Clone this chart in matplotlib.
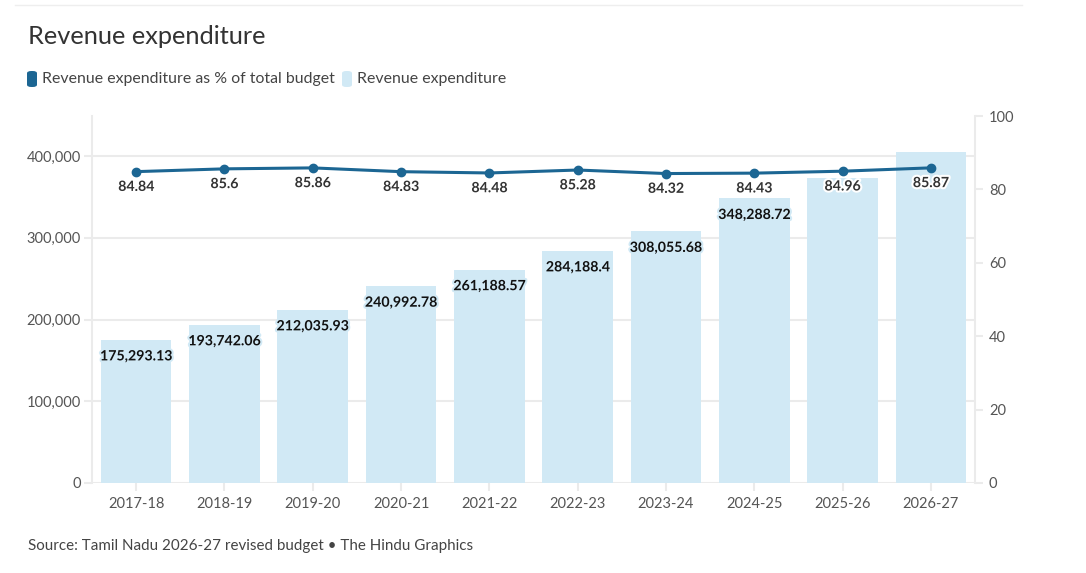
import matplotlib
matplotlib.use("Agg")
import matplotlib.pyplot as plt
import matplotlib.patheffects as pe
from matplotlib.patches import FancyBboxPatch
from matplotlib.lines import Line2D
from matplotlib.ticker import FuncFormatter, FixedLocator

plt.rcParams['font.family'] = ['Lato', 'DejaVu Sans']

# data
years = ["2017-18", "2018-19", "2019-20", "2020-21", "2021-22",
         "2022-23", "2023-24", "2024-25", "2025-26", "2026-27"]
expenditure = [175293.13, 193742.06, 212035.93, 240992.78, 261188.57,
               284188.4, 308055.68, 348288.72, 372700, 405300]
# the last two bar values are not printed on the chart
bar_labels = ["175,293.13", "193,742.06", "212,035.93", "240,992.78", "261,188.57",
              "284,188.4", "308,055.68", "348,288.72", "", ""]
share_pct = [84.84, 85.6, 85.86, 84.83, 84.48, 85.28, 84.32, 84.43, 84.96, 85.87]
left_ticks = [0, 100000, 200000, 300000, 400000]
right_ticks = [0, 20, 40, 60, 80, 100]

BAR = "#d1e9f5"
LINE = "#1c6693"
GRID = "#ebebeb"
TXT = "#555555"

W, H = 1086, 573
fig = plt.figure(figsize=(W / 100, H / 100), dpi=100)
ax = fig.add_axes([92 / W, 1 - 483 / H, (975 - 92) / W, (483 - 116) / H])
ax2 = ax.twinx()

x = list(range(len(years)))
bars = ax.bar(x, expenditure, width=0.8, color=BAR, zorder=2)
ax.set_xlim(-0.5, len(years) - 0.5)
ax.set_ylim(0, 449000)
ax.yaxis.set_major_locator(FixedLocator(left_ticks))
ax.yaxis.set_major_formatter(FuncFormatter(lambda v, p: f"{int(v):,}"))
ax.set_xticks(x)
ax.set_xticklabels(years)
ax.grid(axis="y", color=GRID, linewidth=1.5, zorder=0)
ax.set_axisbelow(True)

for b, lab in zip(bars, bar_labels):
    if not lab:
        continue
    ax.annotate(lab, (b.get_x() + b.get_width() / 2, b.get_height()),
                xytext=(0, -12), textcoords="offset points", ha="center", va="center",
                fontsize=10.2, fontweight="bold", color="#111111", zorder=5,
                path_effects=[pe.withStroke(linewidth=3, foreground=BAR)])

ax2.plot(x, share_pct, color=LINE, linewidth=2.2, marker="o", markersize=6, zorder=4)
ax2.set_ylim(0, 100)
ax2.yaxis.set_major_locator(FixedLocator(right_ticks))
for xi, v in zip(x, share_pct):
    ax2.annotate(f"{v:g}", (xi, v), xytext=(0, -11), textcoords="offset points",
                 ha="center", va="center", fontsize=10.2, fontweight="bold", color="#333333",
                 path_effects=[pe.withStroke(linewidth=3, foreground="white")])

for a in (ax, ax2):
    for s in a.spines.values():
        s.set_visible(False)
    a.tick_params(colors=GRID, labelcolor=TXT, labelsize=10.5, length=6, width=1.5)
ax.tick_params(axis="x", pad=4)
ax.tick_params(axis="y", pad=2)
ax.spines["left"].set_visible(True)
ax.spines["left"].set_color(GRID)
ax.spines["left"].set_linewidth(1.5)
ax2.spines["right"].set_visible(True)
ax2.spines["right"].set_color(GRID)
ax2.spines["right"].set_linewidth(1.5)
ax2.tick_params(axis="y", pad=4)

# top rule, title, legend and source
fig.add_artist(Line2D([15 / W, 1022 / W], [1 - 5 / H, 1 - 5 / H], color="#eeeeee", linewidth=1))
fig.text(28 / W, 1 - 37 / H, "Revenue expenditure", fontsize=18.3, color="#333333", va="center")

legend_items = [(27, LINE, "Revenue expenditure as % of total budget"),
                (342, BAR, "Revenue expenditure")]
for px, col, lab in legend_items:
    fig.add_artist(FancyBboxPatch((px / W, 1 - 87 / H), 10 / W, 16 / H,
                                  boxstyle="round,pad=0,rounding_size=0.004",
                                  transform=fig.transFigure, facecolor=col, edgecolor="none"))
    fig.text((px + 15) / W, 1 - 79 / H, lab, fontsize=11.4, color="#444444", va="center")

fig.text(28 / W, 1 - 546 / H, "Source: Tamil Nadu 2026-27 revised budget \u2022 The Hindu Graphics",
         fontsize=10.9, color="#444444", va="center")

fig.savefig("out.png", dpi=100)
